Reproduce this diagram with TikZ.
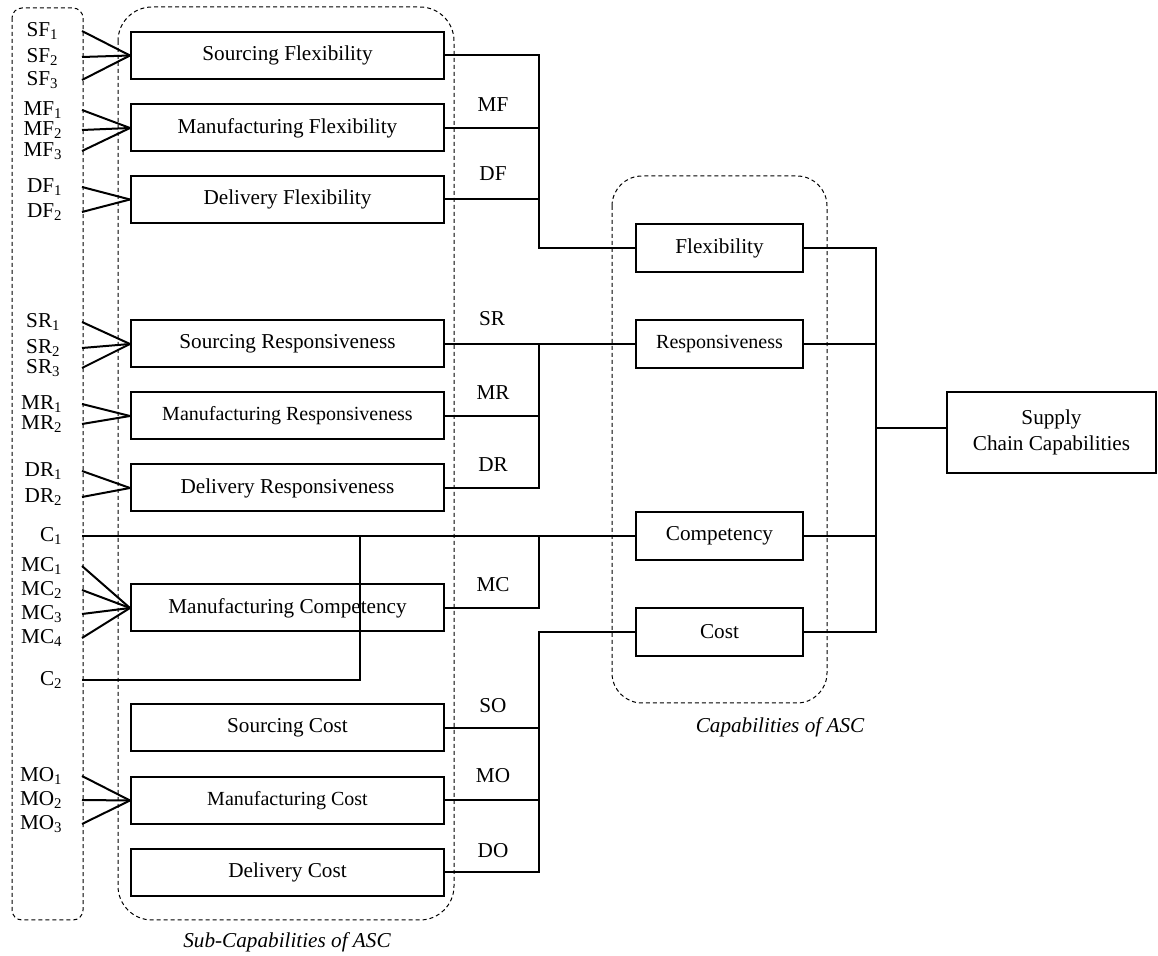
\documentclass[tikz,border=0pt]{standalone}
\usepackage{fontspec}
\setmainfont{Liberation Serif}

\begin{document}
\begin{tikzpicture}[x=0.5pt,y=-0.5pt,
    every node/.style={font=\fontsize{10.6pt}{12.7pt}\selectfont},
    smallfont/.style={font=\fontsize{10pt}{12pt}\selectfont},
    subbox/.style={draw,line width=1pt,minimum width=156.5pt,minimum height=23.5pt,inner sep=0pt},
    capbox/.style={draw,line width=1pt,minimum width=83.5pt,minimum height=24pt,inner sep=0pt},
    inp/.style={anchor=east,inner xsep=9.5pt,inner ysep=0pt},
    lbl/.style={inner sep=0pt},
    grp/.style={line width=0.5pt,dash pattern=on 2pt off 1.5pt},
    capt/.style={font=\fontsize{10.6pt}{12.7pt}\selectfont\itshape},
    conn/.style={line width=1pt}]
\useasboundingbox (0,0) rectangle (1158,956);

% groups
\draw[grp,rounded corners=5pt] (12,8) rectangle (83,920);
\draw[grp,rounded corners=17pt] (118,7) rectangle (454,920);
\draw[grp,rounded corners=15pt] (612,176) rectangle (827,703);
\node[capt] (subcap) at (287,942) {Sub-Capabilities of ASC};
\node[capt] (capcap) at (780,727) {Capabilities of ASC};

% sub-capabilities
\node[subbox] (sfb) at (287.5,55.5) {Sourcing Flexibility};
\node[subbox] (mfb) at (287.5,128) {Manufacturing Flexibility};
\node[subbox] (dfb) at (287.5,199.5) {Delivery Flexibility};
\node[subbox] (srb) at (287.5,344) {Sourcing Responsiveness};
\node[subbox,smallfont] (mrb) at (287.5,416) {Manufacturing Responsiveness};
\node[subbox] (drb) at (287.5,488) {Delivery Responsiveness};
\node[subbox] (mcb) at (287.5,608) {Manufacturing Competency};
\node[subbox] (sob) at (287.5,728) {Sourcing Cost};
\node[subbox,smallfont] (mob) at (287.5,800.5) {Manufacturing Cost};
\node[subbox] (dob) at (287.5,872.5) {Delivery Cost};

% capabilities
\node[capbox] (flex) at (719.5,248) {Flexibility};
\node[capbox,smallfont] (resp) at (719.5,344) {Responsiveness};
\node[capbox] (comp) at (719.5,536) {Competency};
\node[capbox] (cost) at (719.5,632) {Cost};
\node[draw,line width=1pt,minimum width=104.5pt,minimum height=40.5pt,align=center] (sup) at (1051.5,432.5) {Supply\\Chain Capabilities};

% measures
\node[inp,inner xsep=11.5pt] (sf1) at (82,31) {SF\textsubscript{1}};
\node[inp,inner xsep=11.5pt] (sf2) at (82,57) {SF\textsubscript{2}};
\node[inp,inner xsep=11.5pt] (sf3) at (82,80) {SF\textsubscript{3}};
\node[inp] (mf1) at (82,110) {MF\textsubscript{1}};
\node[inp] (mf2) at (82,130) {MF\textsubscript{2}};
\node[inp] (mf3) at (82,151) {MF\textsubscript{3}};
\node[inp] (df1) at (82,187) {DF\textsubscript{1}};
\node[inp] (df2) at (82,212) {DF\textsubscript{2}};
\node[inp,inner xsep=10.5pt] (sr1) at (82,322) {SR\textsubscript{1}};
\node[inp,inner xsep=10.5pt] (sr2) at (82,348) {SR\textsubscript{2}};
\node[inp,inner xsep=10.5pt] (sr3) at (82,368) {SR\textsubscript{3}};
\node[inp] (mr1) at (82,404) {MR\textsubscript{1}};
\node[inp] (mr2) at (82,424) {MR\textsubscript{2}};
\node[inp] (dr1) at (82,471) {DR\textsubscript{1}};
\node[inp] (dr2) at (82,497) {DR\textsubscript{2}};
\node[inp] (c1) at (82,536) {C\textsubscript{1}};
\node[inp] (mc1) at (82,566) {MC\textsubscript{1}};
\node[inp] (mc2) at (82,590) {MC\textsubscript{2}};
\node[inp] (mc3) at (82,614) {MC\textsubscript{3}};
\node[inp] (mc4) at (82,638) {MC\textsubscript{4}};
\node[inp] (c2) at (82,680) {C\textsubscript{2}};
\node[inp] (mo1) at (82,776) {MO\textsubscript{1}};
\node[inp] (mo2) at (82,800) {MO\textsubscript{2}};
\node[inp] (mo3) at (82,824) {MO\textsubscript{3}};

\foreach \i in {1,2,3} {
  \draw[conn] (sf\i.east) -- (sfb.west);
  \draw[conn] (mf\i.east) -- (mfb.west);
  \draw[conn] (sr\i.east) -- (srb.west);
  \draw[conn] (mo\i.east) -- (mob.west);
}
\foreach \i in {1,2} {
  \draw[conn] (df\i.east) -- (dfb.west);
  \draw[conn] (mr\i.east) -- (mrb.west);
  \draw[conn] (dr\i.east) -- (drb.west);
}
\foreach \i in {1,...,4}
  \draw[conn] (mc\i.east) -- (mcb.west);

% buses
\coordinate (bf) at (539,248);
\coordinate (cj) at (360,536);
\coordinate (bc) at (876,428);

\draw[conn] (sfb.east) -| (bf) -- (flex.west);
\draw[conn] (mfb.east) -- (mfb.east -| bf);
\draw[conn] (dfb.east) -- (dfb.east -| bf);

\draw[conn] (srb.east) -- (resp.west);
\draw[conn] (drb.east) -| (srb.east -| bf);
\draw[conn] (mrb.east) -- (mrb.east -| bf);

\draw[conn] (c1.east) -- (comp.west);
\draw[conn] (c2.east) -| (cj);
\draw[conn] (mcb.east) -| (comp.west -| bf);

\draw[conn] (cost.west) -| (dob.east -| bf) -- (dob.east);
\draw[conn] (sob.east) -- (sob.east -| bf);
\draw[conn] (mob.east) -- (mob.east -| bf);

\draw[conn] (flex.east) -| (cost.east -| bc) -- (cost.east);
\draw[conn] (resp.east) -- (resp.east -| bc);
\draw[conn] (comp.east) -- (comp.east -| bc);
\draw[conn] (bc) -- (bc -| sup.west);

% bus labels
\node[lbl] (lmf) at (493,105) {MF};
\node[lbl] (ldf) at (493,174) {DF};
\node[lbl] (lsr) at (492,319) {SR};
\node[lbl] (lmr) at (493,393) {MR};
\node[lbl] (ldr) at (493,465) {DR};
\node[lbl] (lmc) at (493,585) {MC};
\node[lbl] (lso) at (493,706) {SO};
\node[lbl] (lmo) at (493,776) {MO};
\node[lbl] (ldo) at (493,851) {DO};
\end{tikzpicture}
\end{document}
